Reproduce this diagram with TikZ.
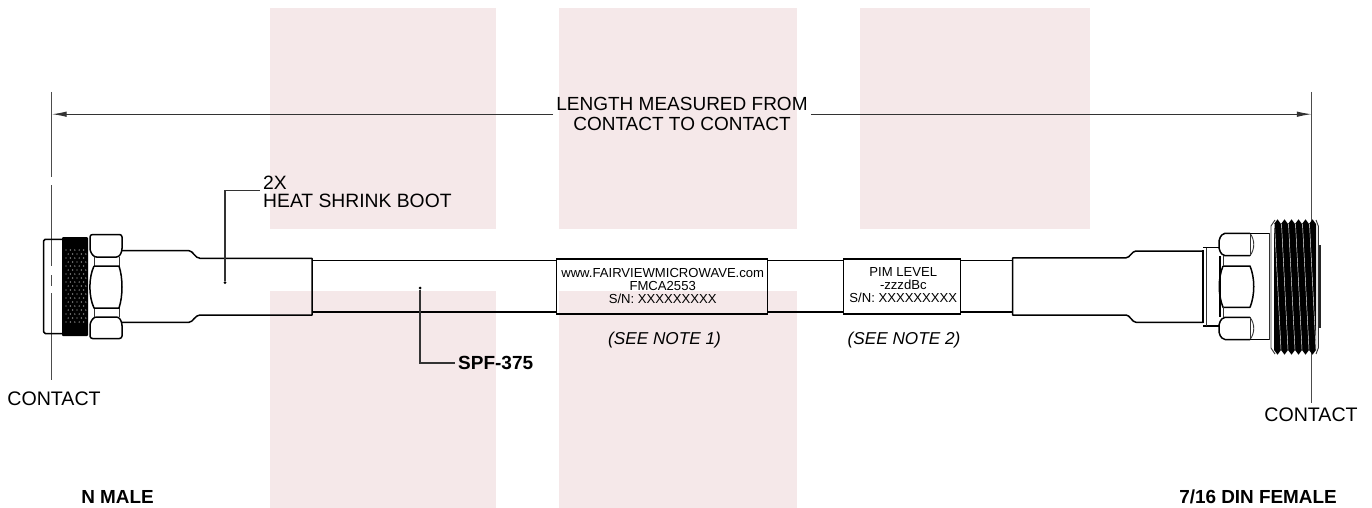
\documentclass[tikz,border=0pt]{standalone}
\usepackage{fontspec}
\setmainfont{Liberation Sans}
\usetikzlibrary{calc,positioning,arrows.meta}
\definecolor{wmark}{RGB}{245,232,233}
\begin{document}
\begin{tikzpicture}[x=1pt,y=-1pt,>={Latex[length=15pt,width=5.5pt]}]

	\tikzset{
		wmark box/.style={fill=wmark,draw=none},
		body line/.style={line width=1.5pt,line join=round},
		thin body/.style={line width=0.9pt,line join=round,black!80},
		lead line/.style={line width=1.1pt,black!80},
		contact line/.style={line width=1.2pt,black!70},
		lead dot/.style={circle,fill=black,inner sep=0pt,minimum size=3pt},
		drawing text/.style={font=\fontsize{19.3}{18.4}\selectfont,inner sep=0pt,align=left},
		label text/.style={font=\fontsize{13.1}{13}\selectfont,inner sep=0pt,align=center},
		note text/.style={font=\fontsize{17.2}{17.2}\selectfont\itshape,inner sep=0pt},
		name text/.style={font=\fontsize{18.9}{18.9}\selectfont\bfseries,inner sep=0pt}
	}

	\useasboundingbox (0,0) rectangle (1372,508);

	% background marks
	\foreach \xa/\xb in {270/496,559/797,860/1090} {
			\fill[wmark box] (\xa,8) rectangle (\xb,229);
		}
	\foreach \xa/\xb in {270/496,559/797} {
			\fill[wmark box] (\xa,291) rectangle (\xb,508);
		}

	% contact lines
	\coordinate (cl_top) at (51.7,92);
	\coordinate (cl_bot) at (51.7,380);
	\coordinate (cr_top) at (1311.8,92);
	\coordinate (cr_bot) at (1311.8,403);
	\draw[contact line] (cl_top) -- (51.7,177);
	\draw[contact line] (51.7,185) -- (51.7,266);
	\draw[contact line] (51.7,275) -- (51.7,286);
	\draw[contact line] (51.7,293) -- (cl_bot);
	\draw[contact line] (cr_top) -- (cr_bot);

	% length dimension
	\node[drawing text,font=\fontsize{19}{20.5}\selectfont,align=center,inner xsep=3pt] (length) at (682,114.2) {LENGTH MEASURED FROM\\CONTACT TO CONTACT};
	\draw[->,lead line] (length.west) -- (cl_top |- length.west);
	\draw[->,lead line] (length.east) -- (cr_top |- length.east);

	% cable
	\foreach \xa/\xb in {312/557,768/843,961/1013} {
			\draw[body line] (\xa,260.6) -- (\xb,260.6);
			\draw[body line] (\xa,312) -- (\xb,312);
		}

	% left boot
	\draw[body line] (122,250.7) -- (189,250.7) .. controls (193,250.7) and (195,258.3) .. (200,258.3) -- (312,258.3) -- (312,315) -- (200,315) .. controls (195,315) and (193,322.3) .. (189,322.3) -- (122,322.3);

	% right boot
	\draw[body line] (1203,251) -- (1136,251) .. controls (1132,251) and (1130,257.8) .. (1126,257.8) -- (1012.7,257.8) -- (1012.7,315) -- (1126,315) .. controls (1130,315) and (1132,322.3) .. (1136,322.3) -- (1203,322.3);

	% N male connector
	\draw[body line,rounded corners=1.5pt] (62,239.3) -- (43.7,239.3) -- (43.7,333.5) -- (62,333.5);
	\fill[black,rounded corners=1pt] (62,237) rectangle (88,336);
	\foreach \i in {0,...,4} {
			\foreach \j in {0,...,18} {
					\fill[white,opacity=0.7] ({66+\i*4.4+mod(\j,2)*2.2},{250+\j*4}) circle (0.7);
				}
		}
	\draw[body line,rounded corners=2.5pt] (94,257) -- (90,251) -- (90,234.5) -- (122,234.5) -- (122,251) -- (119,257) -- cycle;
	\draw[body line,rounded corners=2.5pt] (94,317) -- (90,323) -- (90,338.5) -- (122,338.5) -- (122,323) -- (119,317) -- cycle;
	\draw[thin body] (94,257) -- (94,266);
	\draw[thin body] (119,257) -- (119,266);
	\draw[thin body] (94,308) -- (94,317);
	\draw[thin body] (119,308) -- (119,317);
	\draw[body line] (94,266) -- (119,266) .. controls (123,278) and (123,296) .. (119,308) -- (94,308) .. controls (88.5,296) and (88.5,278) .. (94,266);

	% 7/16 DIN connector
	\draw[body line] (1203,323) -- (1203,250);
	\draw[body line] (1203,247.5) -- (1220,247.5);
	\draw[body line] (1203,326) -- (1220,326);
	\draw[thin body] (1206,247.5) -- (1206,326);
	\draw[body line] (1220,256) -- (1220,317);
	\draw[body line,rounded corners=2pt] (1250,255.7) -- (1223,255.7) -- (1219,250) -- (1219,239) -- (1223,233.3) -- (1250,233.3);
	\draw[body line,rounded corners=2pt] (1250,317.3) -- (1223,317.3) -- (1219,323) -- (1219,334) -- (1223,339.5) -- (1250,339.5);
	\draw[thin body] (1250,233.3) .. controls (1255,240) and (1255,249) .. (1250,255.7);
	\draw[thin body] (1250,317.3) .. controls (1255,324) and (1255,333) .. (1250,339.5);
	\draw[thin body] (1250,233.3) -- (1250,255.7);
	\draw[thin body] (1250,317.3) -- (1250,339.5);
	\draw[body line] (1223,266) -- (1250,266) .. controls (1255,278) and (1255,295) .. (1250,307.3) -- (1223,307.3) .. controls (1218,295) and (1218,278) .. (1223,266);
	\draw[thin body] (1223,255.7) -- (1223,266);
	\draw[thin body] (1223,307.3) -- (1223,317.3);
	\draw[body line] (1250,233.3) -- (1270,233.3);
	\draw[body line] (1250,339.5) -- (1270,339.5);
	\draw[thin body] (1269.5,233.3) -- (1269.5,339.5);

	% threads
	\fill[white] (1271,222) rectangle (1318,352);
	\fill[black!85] (1318.3,245) rectangle (1321.3,328);
	\draw[thin body] (1275,220) -- (1271,226) -- (1271,348) -- (1275,354);
	\draw[thin body] (1316,220) -- (1318.3,226) -- (1318.3,348) -- (1316,354);
	\foreach \i in {0,...,5} {
			\fill[black] ({1274+\i*7},{224}) -- ({1277.5+\i*7},{219.3}) -- ({1281+\i*7},{224}) -- ({1281+\i*7},{350}) -- ({1277.5+\i*7},{354.7}) -- ({1274+\i*7},{350}) -- cycle;
		}
	\foreach \i in {0,...,5} {
			\draw[white,line width=0.45pt] ({1274.5+\i*7},{224}) -- ({1281+\i*7},{350});
		}

	% labels on the cable
	\node[draw,line width=1.5pt,minimum width=211pt,minimum height=55pt,inner sep=0pt] (label_a) at (662.2,286.5) {};
	\node[label text] (label_a_txt) at (662.7,285.5) {www.FAIRVIEWMICROWAVE.com\\FMCA2553\\S/N: XXXXXXXXX};
	\node[draw,line width=1.5pt,minimum width=117pt,minimum height=55pt,inner sep=0pt] (label_b) at (902,286.5) {};
	\node[label text] (label_b_txt) at (903.3,285.5) {PIM LEVEL\\-zzzdBc\\S/N: XXXXXXXXX};

	\node[note text] (note_a) at (664.5,340.5) {(SEE NOTE 1)};
	\node[note text] (note_b) at (904,340.5) {(SEE NOTE 2)};

	% leaders
	\node[drawing text,anchor=west] (boot) at (263,192) {2X\\HEAT SHRINK BOOT};
	\node[lead dot] (boot_dot) at (225,282.7) {};
	\coordinate (boot_knee) at (225,190.7);
	\draw[lead line] (boot_dot) -- (boot_knee) -- (260,190.7);

	\node[name text,font=\fontsize{19}{19}\selectfont\bfseries,anchor=west,inner xsep=3pt] (cable) at (455,363) {SPF-375};
	\node[lead dot] (cable_dot) at (420,288) {};
	\draw[lead line] (cable_dot) |- (cable.west);

	% names
	\node[drawing text,font=\fontsize{19.6}{19.6}\selectfont] (contact_l) at (54,398.5) {CONTACT};
	\node[drawing text,font=\fontsize{19.6}{19.6}\selectfont] (contact_r) at (1311,415) {CONTACT};
	\node[name text] (male) at (117.5,497) {N MALE};
	\node[name text] (female) at (1258,497) {7/16 DIN FEMALE};
\end{tikzpicture}
\end{document}
